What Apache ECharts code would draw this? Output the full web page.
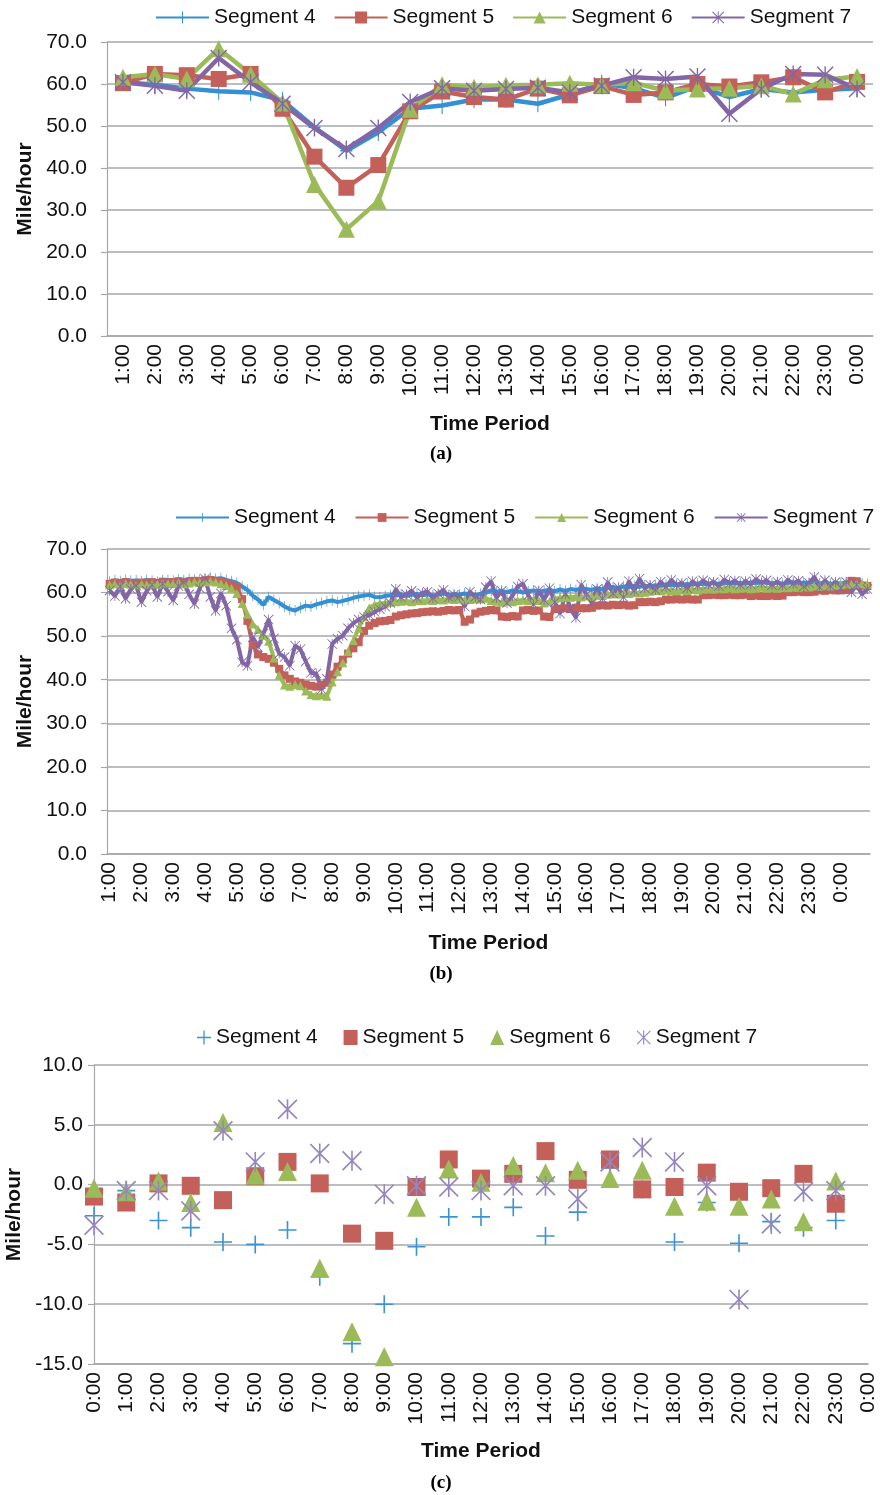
<!DOCTYPE html>
<html><head><meta charset="utf-8">
<script src="https://cdn.jsdelivr.net/npm/echarts@6/dist/echarts.min.js"></script>
<style>
html,body{margin:0;padding:0;background:#fff;}
#wrap{position:relative;width:880px;height:1495px;overflow:hidden;}
.ch{position:absolute;left:0;width:880px;}
</style></head><body>
<div id="wrap">
<div id="ca" class="ch" style="top:0;height:478px"></div>
<div id="cb" class="ch" style="top:490px;height:505px"></div>
<div id="cc" class="ch" style="top:1010px;height:485px"></div>
</div>
<script>
// ---------- DATA ----------
const seriesNames = ['Segment 4', 'Segment 5', 'Segment 6', 'Segment 7'];

// (a) hourly averages
const hoursA = ['1:00','2:00','3:00','4:00','5:00','6:00','7:00','8:00','9:00','10:00','11:00','12:00',
  '13:00','14:00','15:00','16:00','17:00','18:00','19:00','20:00','21:00','22:00','23:00','0:00'];
const seg4A = [60.5,59.8,58.9,58.3,58.0,56.1,49.7,44.1,48.5,54.1,54.9,56.3,56.3,55.3,57.5,60.2,59.0,56.7,59.5,56.9,58.8,58.0,58.6,59.0];
const seg5A = [60.2,62.4,62.1,61.2,62.4,54.1,42.7,35.3,40.7,53.5,58.2,56.9,56.3,58.9,57.3,59.5,57.4,58.0,60.0,59.4,60.4,61.6,58.0,60.5];
const seg6A = [61.6,62.4,61.2,68.4,62.3,55.5,36.1,25.4,32.1,54.0,59.8,59.2,59.7,59.8,60.2,59.8,60.3,58.4,58.8,59.0,59.6,57.6,61.0,61.8];
const seg7A = [60.4,59.6,58.4,66.2,60.4,55.3,49.5,44.5,49.5,55.7,59.0,58.4,58.8,59.1,58.0,59.6,61.6,61.2,61.8,52.9,58.8,62.4,62.2,58.8];

// (b) 10-minute values, 1:00 .. 0:50
const hoursB = ['1:00','2:00','3:00','4:00','5:00','6:00','7:00','8:00','9:00','10:00','11:00','12:00',
  '13:00','14:00','15:00','16:00','17:00','18:00','19:00','20:00','21:00','22:00','23:00','0:00'];
const minutesB = ['00','10','20','30','40','50'];
const seg4B = [
62.5,62.8,62.6,62.9,62.7,62.8, 62.6,62.9,62.7,62.5,62.8,62.9, 62.7,63.0,62.8,63.1,62.9,63.0,
63.2,63.4,63.1,63.3,62.9,62.6, 62.2,61.4,60.6,59.3,58.4,57.2, 59.0,58.3,57.6,56.8,56.2,55.9,
56.5,57.0,56.8,57.3,57.6,58.0, 58.2,57.8,58.1,58.4,58.8,59.1, 59.3,59.5,59.0,58.9,59.2,59.4,
59.3,59.6,59.2,59.5,59.7,59.4, 59.6,59.3,59.5,59.8,59.4,59.6, 59.5,59.8,59.6,59.4,59.7,59.9,
60.5,60.2,60.4,60.1,60.5,60.3, 60.0,60.3,60.5,60.2,60.4,60.6, 60.3,60.7,60.4,60.8,60.6,60.9,
60.8,60.6,61.0,60.7,61.1,61.3, 61.0,61.4,61.2,61.5,61.3,61.6, 61.4,61.7,61.5,61.8,61.6,61.9,
61.7,62.0,61.8,62.1,61.9,62.0, 62.2,61.9,62.1,62.3,62.0,62.2, 62.0,62.3,62.1,62.4,62.2,62.1,
62.3,62.0,62.2,62.4,62.1,62.3, 62.2,62.4,62.1,62.3,62.0,62.2, 62.1,62.3,62.0,61.8,62.1,61.9];
const seg5B = [
62.0,62.3,62.1,62.4,62.2,62.0, 62.3,62.1,62.4,62.2,62.5,62.3, 62.4,62.6,62.3,62.5,62.7,62.6,
62.8,62.9,62.7,62.5,62.2,61.8, 61.3,58.5,53.5,48.0,45.8,45.2, 44.8,43.9,42.5,41.0,40.2,39.6,
39.3,38.9,38.6,38.4,38.8,39.3, 41.2,43.0,44.6,46.0,47.2,48.6, 51.2,52.4,53.0,53.4,53.5,53.7,
54.5,54.8,55.0,55.2,55.3,55.5, 55.6,55.7,55.6,55.8,56.0,55.9, 56.0,53.3,53.8,55.2,55.6,55.8,
56.0,55.9,54.5,54.4,54.6,54.5, 55.9,56.0,55.8,55.9,54.5,54.4, 56.2,56.3,56.4,56.2,56.5,56.4,
56.4,56.5,57.0,57.1,57.0,57.2, 57.1,57.2,57.0,57.1,57.8,57.8, 57.9,57.8,58.0,58.4,58.4,58.5,
58.4,58.5,58.4,58.4,59.4,59.4, 59.5,59.4,59.4,59.5,59.4,59.4, 59.5,59.2,59.3,59.2,59.2,59.3,
59.2,59.3,60.1,60.1,60.2,60.1, 60.1,60.2,60.5,60.4,60.6,60.5, 60.5,60.6,62.7,62.6,61.6,61.5];
const seg6B = [
61.8,62.0,61.7,62.1,61.9,61.8, 62.0,61.8,62.1,61.9,62.2,62.0, 62.1,62.3,62.0,62.2,62.4,62.3,
62.5,62.6,62.4,62.0,61.6,61.0, 59.8,57.5,55.0,52.8,51.5,50.2, 48.8,45.0,41.0,38.8,38.5,38.9,
38.6,37.4,36.6,36.3,36.5,36.2, 39.5,41.8,43.9,46.5,49.0,51.8, 54.5,56.5,57.2,57.5,57.6,57.8,
57.9,58.0,58.1,57.9,58.2,58.1, 58.3,58.2,58.4,58.3,58.5,58.4, 58.5,58.3,58.4,58.6,58.5,58.7,
58.2,58.0,57.8,58.1,57.9,58.2, 58.3,58.1,58.4,58.2,57.6,57.9, 58.6,58.8,59.0,58.9,59.1,59.0,
59.2,59.1,59.4,59.3,59.6,59.8, 59.7,59.9,59.8,60.0,59.9,60.1, 60.3,60.5,60.4,60.6,60.5,60.4,
60.6,60.5,60.7,60.6,60.8,60.9, 60.8,61.0,60.9,61.1,60.9,61.0, 61.1,60.9,61.0,61.2,61.0,61.1,
61.0,61.2,61.1,61.3,61.2,61.4, 61.3,61.5,61.4,61.6,61.5,61.7, 61.8,62.0,61.9,62.1,62.0,61.9];
const seg7B = [
60.5,59.2,61.4,58.6,60.8,61.6, 57.8,60.4,61.8,59.0,62.0,60.2, 58.2,61.5,62.3,59.6,57.4,61.0,
63.2,59.0,55.8,59.8,57.0,51.8, 49.2,44.0,43.2,49.8,47.5,50.5, 53.8,49.5,46.0,45.2,43.2,47.8,
47.0,44.2,41.6,41.4,37.8,40.2, 48.2,49.4,50.1,51.8,53.0,53.8, 54.4,54.8,55.6,56.2,56.8,57.6,
60.8,58.9,59.6,60.4,58.8,59.9, 60.2,58.7,59.8,60.6,58.9,59.5, 59.1,56.8,60.2,59.0,58.4,61.2,
62.6,58.8,60.4,57.6,59.2,61.4, 62.0,59.4,57.2,60.5,58.3,61.0, 57.8,55.2,59.6,56.4,54.2,61.8,
59.5,57.6,60.8,58.6,62.4,59.8, 61.2,58.9,62.6,60.4,63.2,61.0, 61.8,60.6,62.5,61.3,62.9,61.7,
62.2,61.0,62.6,61.6,62.8,61.9, 62.4,61.5,63.0,62.1,62.7,61.8, 62.6,61.9,63.1,62.2,62.8,61.7,
62.5,61.6,62.9,62.0,62.7,61.4, 62.2,63.6,61.2,62.8,61.5,62.4, 61.0,62.4,60.1,61.8,59.6,60.8];

// (c) hourly differences
const hoursC = ['0:00','1:00','2:00','3:00','4:00','5:00','6:00','7:00','8:00','9:00','10:00','11:00','12:00',
  '13:00','14:00','15:00','16:00','17:00','18:00','19:00','20:00','21:00','22:00','23:00','0:00'];
const seg4C = [-2.6,-0.5,-3.0,-3.6,-4.8,-5.0,-3.8,-7.7,-13.3,-10.0,-5.2,-2.7,-2.7,-1.9,-4.3,-2.3,1.4,-0.4,-4.8,-1.5,-4.9,-3.1,-3.6,-3.0];
const seg5C = [-1.0,-1.5,0.1,-0.1,-1.3,0.7,1.9,0.1,-4.1,-4.7,-0.2,2.1,0.5,0.9,2.8,0.4,2.1,-0.4,-0.2,1.0,-0.6,-0.3,0.9,-1.6];
const seg6C = [-0.3,-0.6,0.3,-1.5,5.2,0.8,1.1,-7.0,-12.3,-14.4,-1.9,1.3,0.2,1.6,1.0,1.2,0.5,1.2,-1.8,-1.4,-1.8,-1.2,-3.1,0.3];
const seg7C = [-3.4,-0.5,-0.5,-2.2,4.5,1.9,6.3,2.6,2.0,-0.8,-0.1,-0.2,-0.5,-0.1,-0.1,-1.2,1.9,3.1,1.9,-0.1,-9.6,-3.3,-0.6,-0.5];

// ---------- STYLE ----------
const FONT = "'Liberation Sans', Arial, Helvetica, sans-serif";
const COLORS = ['#3490d3', '#c3605a', '#9bbb59', '#8266a6'];
const GRID = '#a4a8ad';
const TXT = '#111111';
const PLUS = 'path://M4.55,0H5.45V10H4.55Z M0,4.55H10V5.45H0Z';
const STAR = 'path://M4.6,0H5.4V10H4.6Z M0,0.6L0.6,0L10,9.4L9.4,10Z M9.4,0L10,0.6L0.6,10L0,9.4Z';
const SYMBOLS = [PLUS, 'rect', 'triangle', STAR];

function yAxis(min, max, interval, nameGap, margin) {
  return {
    type: 'value', min: min, max: max, interval: interval,
    name: 'Mile/hour', nameLocation: 'middle', nameGap: nameGap, nameRotate: 90,
    nameTextStyle: { fontFamily: FONT, fontSize: 21, fontWeight: 'bold', color: TXT },
    axisLine: { show: true, lineStyle: { color: GRID, width: 1.2 } },
    axisTick: { show: true, length: 6, lineStyle: { color: GRID, width: 1.2 } },
    splitLine: { show: true, lineStyle: { color: GRID, width: 1.5 } },
    axisLabel: { fontFamily: FONT, fontSize: 21, color: TXT, margin: margin,
      formatter: v => v.toFixed(1) }
  };
}
function xAxis(cats, boundaryGap, interval, nameGap) {
  return {
    type: 'category', data: cats, boundaryGap: boundaryGap,
    name: 'Time Period', nameLocation: 'middle', nameGap: nameGap,
    nameTextStyle: { fontFamily: FONT, fontSize: 21, fontWeight: 'bold', color: TXT },
    axisLine: { show: true, onZero: false, lineStyle: { color: GRID, width: 1.5 } },
    axisTick: { show: false },
    splitLine: { show: false },
    axisLabel: { fontFamily: FONT, fontSize: 21, color: TXT, rotate: 90, margin: 8,
      interval: interval, formatter: v => /:[1-5]0$/.test(v) ? '' : v }
  };
}
function caption(txt, x, y) {
  return { type: 'text', x: x, y: y, style: { text: txt, fill: '#000',
    font: "bold 19px 'Liberation Serif', 'Times New Roman', serif", textAlign: 'center', textVerticalAlign: 'middle' } };
}
function legend(left, top, w, h, gap) {
  return { left: left, top: top, width: 720, padding: 0, itemWidth: w, itemHeight: h, itemGap: gap, orient: 'horizontal',
    textStyle: { fontFamily: FONT, fontSize: 21, color: TXT }, data: seriesNames };
}

// ---------- CHART (a) ----------
const ca = echarts.init(document.getElementById('ca'), null, { renderer: 'canvas' });
const dataA = [seg4A, seg5A, seg6A, seg7A];
const sizeA = [[12, 17], 16, 17, 17];
ca.setOption({
  animation: false,
  legend: legend(155, 7, 53, 15, 18),
  grid: { left: 107, top: 42, width: 766, height: 294, outerBoundsMode: 'none', containLabel: false },
  xAxis: xAxis(hoursA, true, 0, 78),
  yAxis: yAxis(0, 70, 10, 70, 20),
  graphic: [caption('(a)', 441, 454)],
  series: dataA.map((d, i) => ({
    name: seriesNames[i], type: 'line', data: d, symbol: SYMBOLS[i], symbolSize: sizeA[i],
    showAllSymbol: true, color: COLORS[i],
    lineStyle: { width: 4.5, color: COLORS[i] }, itemStyle: { color: COLORS[i] }
  }))
});

// ---------- CHART (b) ----------
const catsB = [];
hoursB.forEach(h => { const hh = h.split(':')[0]; minutesB.forEach(m => catsB.push(hh + ':' + m)); });
const cb = echarts.init(document.getElementById('cb'), null, { renderer: 'canvas' });
const dataB = [seg4B, seg5B, seg6B, seg7B];
const sizeB = [[7, 11], 8, 9, 10];
cb.setOption({
  animation: false,
  legend: legend(175, 17, 53, 11, 19),
  grid: { left: 107, top: 59, width: 763, height: 305, outerBoundsMode: 'none', containLabel: false },
  xAxis: xAxis(catsB, true, 5, 79),
  yAxis: yAxis(0, 70, 10, 70, 20),
  graphic: [caption('(b)', 441, 484)],
  series: dataB.map((d, i) => ({
    name: seriesNames[i], type: 'line', data: d, symbol: SYMBOLS[i], symbolSize: sizeB[i],
    showAllSymbol: true, color: COLORS[i],
    lineStyle: { width: 4, color: COLORS[i] }, itemStyle: { color: COLORS[i] }
  }))
});

// ---------- CHART (c) ----------
const cc = echarts.init(document.getElementById('cc'), null, { renderer: 'canvas' });
const dataC = [seg4C, seg5C, seg6C, seg7C];
const sizeC = [18, 18, 19, 20];
const colorsC = ['#3b93d6', '#c3605a', '#9bbb59', '#9586c0'];
cc.setOption({
  animation: false,
  legend: legend(197, 17, 14, 15, 26),
  grid: { left: 94, top: 55, width: 774, height: 299, outerBoundsMode: 'none', containLabel: false },
  xAxis: xAxis(hoursC, false, 0, 77),
  yAxis: yAxis(-15, 10, 5, 68, 11),
  graphic: [caption('(c)', 441, 473)],
  series: dataC.map((d, i) => ({
    name: seriesNames[i], type: 'scatter', data: d, symbol: SYMBOLS[i], symbolSize: sizeC[i],
    itemStyle: { color: colorsC[i], opacity: 1 }
  }))
});
</script>
</body></html>
